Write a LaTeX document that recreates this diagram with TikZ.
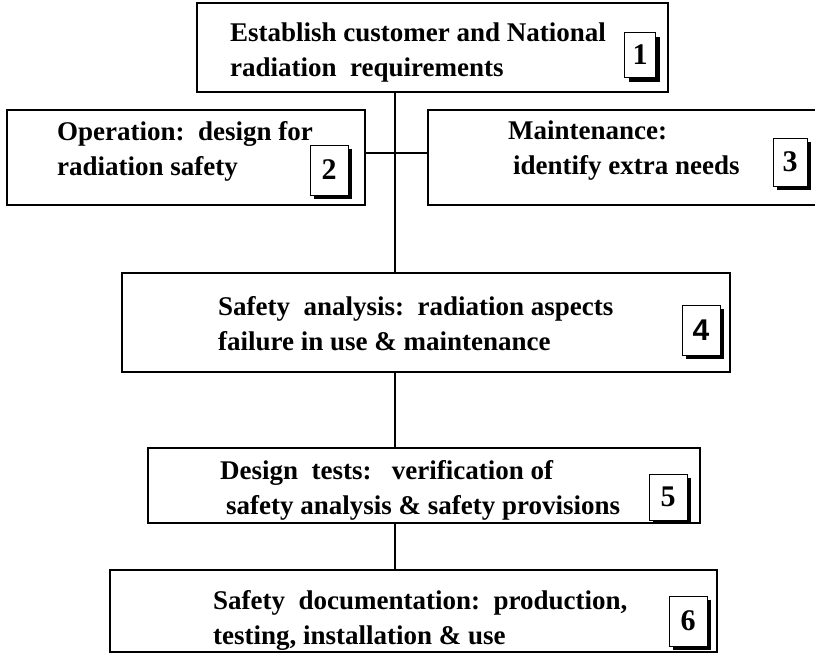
\documentclass[tikz,border=0pt]{standalone}
\usepackage{fontspec}
\setmainfont{Liberation Serif}
\newfontfamily\numsans{Liberation Sans}
\newcommand\tagfont{\fontsize{30}{34}\selectfont\bfseries}
\usetikzlibrary{fit,shadows}

\begin{document}
\begin{tikzpicture}[x=1pt,y=-1pt,line cap=butt,
  bigbox/.style={draw=black,line width=2.6pt,fill=white,inner sep=0pt},
  numbox/.style={draw=black,line width=0.6pt,fill=white,inner sep=0pt,
    drop shadow={shadow xshift=4pt,shadow yshift=-4pt,opacity=1,fill=black}},
  boxtext/.style={anchor=west,align=left,inner sep=0pt,
    font=\fontsize{27}{35}\selectfont\bfseries},
  conn/.style={draw=black,line width=2pt}]
\useasboundingbox (0,0) rectangle (815,656);
\begin{scope}
\clip (0,0) rectangle (815,656);
% spine and branch levels
\coordinate (spine) at (395,0);
\coordinate (branch) at (0,153);
% main boxes
\node[bigbox,fit={(197,3) (668,92)}] (b1) {};
\node[bigbox,fit={(7,110) (365,205)}] (b2) {};
\node[bigbox,fit={(428,110) (830,205)}] (b3) {};
\node[bigbox,fit={(122,273) (730,372)}] (b4) {};
\node[bigbox,fit={(148,448) (700,523)}] (b5) {};
\node[bigbox,fit={(110,570) (717,652)}] (b6) {};
% connectors
\draw[conn] (b1.south -| spine) -- (b4.north -| spine);
\draw[conn] (b2.east |- branch) -- (b3.west |- branch);
\draw[conn] (b4.south -| spine) -- (b5.north -| spine);
\draw[conn] (b5.south -| spine) -- (b6.north -| spine);
% texts
\node[boxtext] (t1) at (230,53) {Establish customer and National\\radiation\ \ requirements};
\node[boxtext] (t2) at (57,151) {Operation:\ \ design\ for\\radiation safety};
\node[boxtext] (t3) at (508,151) {Maintenance:\\\hspace*{5pt}identify extra needs};
\node[boxtext] (t4) at (218,324) {Safety\ \ analysis:\ \ radiation aspects\\failure in use \& maintenance};
\node[boxtext] (t5) at (220,490) {Design\ \ tests:\ \ \ verification of\\\hspace*{6pt}safety analysis \& safety provisions};
\node[boxtext] (t6) at (213,620) {Safety\ \ documentation:\ \ production,\\testing, installation \& use};
% number tags
\node[numbox,minimum width=31pt,minimum height=45pt] (n1) at (640,55) {\tagfont 1};
\node[numbox,minimum width=38pt,minimum height=50pt] (n2) at (329,170) {\tagfont 2};
\node[numbox,minimum width=34pt,minimum height=48pt] (n3) at (790,162) {\tagfont 3};
\node[numbox,minimum width=38pt,minimum height=50pt] (n4) at (701,330) {\tagfont\numsans 4};
\node[numbox,minimum width=38pt,minimum height=46pt] (n5) at (668,497) {\tagfont 5};
\node[numbox,minimum width=38pt,minimum height=50pt] (n6) at (688,621) {\tagfont 6};
\end{scope}
\end{tikzpicture}
\end{document}
